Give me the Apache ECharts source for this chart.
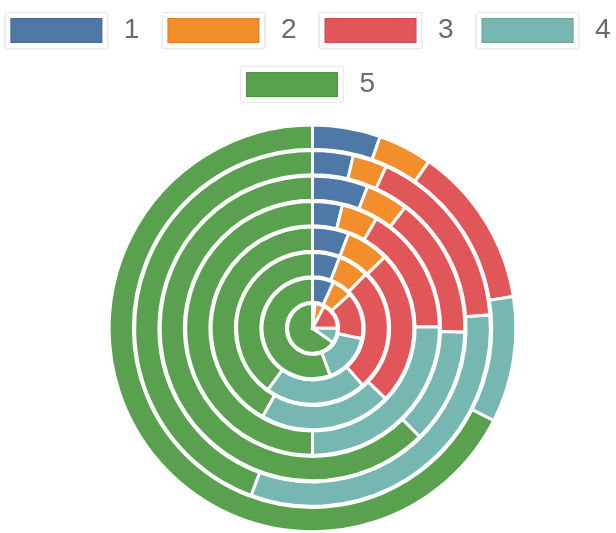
<!DOCTYPE html>
<html>
<head>
<meta charset="utf-8">
<style>
  html, body { margin: 0; padding: 0; background: #fff; }
  #chart { width: 616px; height: 533px; }
</style>
<script src="https://cdn.jsdelivr.net/npm/echarts@6/dist/echarts.min.js"></script>
</head>
<body>
<div id="chart"></div>
<script>
// Rings, innermost first
const rings = ['r1', 'r2', 'r3', 'r4', 'r5', 'r6', 'r7', 'r8'];
const seriesNames = ['1', '2', '3', '4', '5'];
const colors = ['#4e79a7', '#f28e2b', '#e15759', '#76b7b2', '#59a14f'];

// Share of each ring (percent), one array per series
const values1 = [1.7, 6.8, 5.8, 5.8, 3.8, 5.9, 3.7, 5.4];
const values2 = [6.1, 6.4, 6.6, 6.8, 4.6, 4.5, 3.1, 4.3];
const values3 = [17.2, 15.1, 26.1, 24.6, 16.4, 15.0, 17.0, 12.8];
const values4 = [9.7, 16.0, 21.5, 21.0, 25.2, 12.2, 31.8, 10.0];
const values5 = [65.3, 55.7, 40.0, 41.8, 50.0, 62.4, 44.4, 67.5];
const allValues = [values1, values2, values3, values4, values5];

const legendBase = {
  left: 'center',
  width: 616,
  padding: 0,
  orient: 'horizontal',
  itemWidth: 97,
  itemHeight: 30,
  itemGap: 23,
  icon: 'rect',
  itemStyle: {
    borderColor: '#fff',
    borderWidth: 5,
    shadowBlur: 2,
    shadowColor: 'rgba(0,0,0,0.35)'
  },
  textStyle: {
    color: '#6b6b6b',
    fontSize: 28,
    fontFamily: 'Liberation Sans',
    padding: [0, 0, 0, 14]
  }
};

const chart = echarts.init(document.getElementById('chart'), null, { renderer: 'canvas' });
chart.setOption({
  animation: false,
  color: colors,
  legend: [
    Object.assign({}, legendBase, { top: 13, data: seriesNames.slice(0, 4) }),
    Object.assign({}, legendBase, { top: 67, data: seriesNames.slice(4) })
  ],
  polar: {
    center: ['50.73%', '61.6%'],
    radius: 204
  },
  angleAxis: {
    type: 'value',
    min: 0,
    max: 100,
    startAngle: 90,
    clockwise: true,
    axisLine: { show: true, lineStyle: { color: '#dcdcdc', width: 1 } },
    axisTick: { show: false },
    axisLabel: { show: false },
    splitLine: { show: false }
  },
  radiusAxis: {
    type: 'category',
    data: rings,
    axisLine: { show: false },
    axisTick: { show: false },
    axisLabel: { show: false },
    splitLine: { show: false }
  },
  series: seriesNames.map((name, i) => ({
    type: 'bar',
    name: name,
    coordinateSystem: 'polar',
    stack: 'total',
    barCategoryGap: '5%',
    data: allValues[i],
    itemStyle: { borderColor: '#fff', borderWidth: 3 }
  }))
});
</script>
</body>
</html>
